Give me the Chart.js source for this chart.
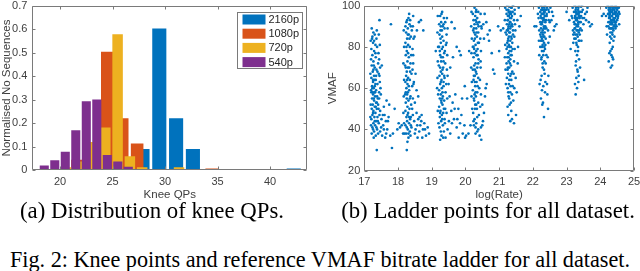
<!DOCTYPE html>
<html>
<head>
<meta charset="utf-8">
<script src="https://cdn.jsdelivr.net/npm/chart.js@4.4.1/dist/chart.umd.min.js"></script>
<style>
  body { margin: 0; width: 640px; height: 271px; background: #fff; position: relative; overflow: hidden; }
  .panel { position: absolute; top: 0; width: 320px; height: 203px; }
  .cap { position: absolute; font-family: "Liberation Serif", "Times New Roman", serif; font-size: 22.8px; line-height: 22px; color: #000; white-space: nowrap; text-align: center; }
</style>
</head>
<body>
<div class="panel" style="left:0"><canvas id="kneeChart" width="320" height="203"></canvas></div>
<div class="panel" style="left:320px"><canvas id="ladderChart" width="320" height="203"></canvas></div>
<div class="cap" style="left:0; width:304px; top:200px">(a) Distribution of knee QPs.</div>
<div class="cap" style="left:338px; width:300px; top:200px">(b) Ladder points for all dataset.</div>
<div class="cap" style="left:0; width:640px; top:249px; font-size:22.2px">Fig. 2: Knee points and reference VMAF bitrate ladder for all dataset.</div>
<script>
// Knee QP histogram (bin centres and normalised counts per resolution)
const qp2160 = [27.85, 29.45, 31.05, 32.65, 34.25, 35.85, 37.45, 39.05, 40.65, 42.25];
const share2160 = [0.088, 0.603, 0.219, 0.088, 0, 0, 0, 0, 0, 0.005];
const qp1080 = [21.66, 23.08, 24.5, 25.92, 27.34, 28.76, 30.18, 31.6, 33.02, 34.44];
const share1080 = [0.042, 0.1, 0.503, 0.219, 0.112, 0.003, 0, 0.003, 0.003, 0.005];
const qp720 = [20.8, 21.97, 23.14, 24.31, 25.48, 26.65, 27.82, 28.99, 30.16, 31.33];
const share720 = [0.01, 0.035, 0.118, 0.18, 0.578, 0.057, 0.01, 0, 0, 0.01];
const qp540 = [18.5, 19.5, 20.5, 21.5, 22.5, 23.5, 24.5, 25.5, 26.5];
const share540 = [0.018, 0.04, 0.077, 0.168, 0.292, 0.3, 0.063, 0.035, 0.012];
const resLabels = ['2160p', '1080p', '720p', '540p'];
const kneeTicksX = [20, 25, 30, 35, 40];
const kneeTicksY = [0, 0.1, 0.2, 0.3, 0.4, 0.5, 0.6, 0.7];

// Ladder points: [log(Rate), VMAF], one list per rung
const rung17 = [[17.22,89],[17.27,87],[17.24,85],[17.31,86],[17.36,84],[17.45,93],[17.26,82],[17.33,81],[17.21,79],[17.29,78],[17.38,80],[17.24,76],[17.34,75],[17.27,73],[17.41,72],[17.22,71],[17.31,70],[17.36,69],[17.25,68],[17.43,67],[17.29,66],[17.21,65],[17.34,64],[17.26,63],[17.39,62],[17.23,61],[17.31,61],[17.28,60],[17.35,59],[17.21,58],[17.44,58],[17.26,57],[17.32,56],[17.38,56],[17.23,55],[17.29,54],[17.35,53],[17.25,52],[17.41,52],[17.31,51],[17.22,50],[17.37,50],[17.27,49],[17.33,48],[17.47,49],[17.24,47],[17.3,46],[17.39,46],[17.21,45],[17.35,44],[17.51,45],[17.27,43],[17.43,43],[17.32,42],[17.24,41],[17.56,42],[17.38,40],[17.29,39],[17.47,39],[17.22,38],[17.34,37],[17.6,47],[17.64,44],[17.53,37],[17.68,40],[17.58,51],[17.72,46],[17.66,54],[17.37,30],[17.77,37],[17.82,31],[17.79,91],[17.49,57],[17.46,63],[17.52,71],[17.42,77],[17.26,64],[17.3,58],[17.28,71],[17.23,84],[17.35,66],[17.4,55],[17.45,47],[17.62,36],
    [17.19,83],[17.2,74],[17.18,67],[17.2,59],[17.19,52],[17.18,46],[17.2,42],[17.43,86],[17.46,81],[17.44,74],[17.47,70],[17.45,66],[17.48,60],[17.44,55],[17.42,50],[17.37,88],[17.29,83],[17.33,77],[17.27,69],[17.39,68],[17.24,60],[17.32,58],[17.28,55],[17.37,53],[17.34,51],[17.26,48],[17.4,44],[17.31,44],[17.36,41],[17.26,40],[17.41,38],[17.28,36],[17.5,41],[17.55,47],[17.58,40],[17.7,44],[17.74,52],[17.65,38],[17.85,38],[17.9,50],[17.33,62],[17.25,58],[17.3,64]];
const rung18 = [[18.31,94],[18.25,92],[18.36,93],[18.22,90],[18.29,89],[18.34,91],[18.41,88],[18.24,87],[18.32,86],[18.27,84],[18.38,85],[18.22,82],[18.3,81],[18.35,80],[18.26,78],[18.43,79],[18.23,76],[18.32,75],[18.28,73],[18.37,72],[18.21,71],[18.33,70],[18.26,68],[18.4,67],[18.24,66],[18.3,65],[18.35,64],[18.22,63],[18.28,62],[18.42,61],[18.25,60],[18.33,59],[18.29,58],[18.21,57],[18.37,56],[18.26,55],[18.31,54],[18.23,53],[18.39,52],[18.28,51],[18.34,50],[18.22,49],[18.3,48],[18.44,47],[18.25,46],[18.36,45],[18.27,44],[18.33,43],[18.22,42],[18.4,41],[18.29,40],[18.35,39],[18.24,38],[18.31,36],[18.28,34],[18.26,30],[18.48,44],[18.52,40],[18.55,48],[18.5,53],[18.6,45],[18.63,39],[18.66,42],[18.58,36],[18.7,47],[18.74,40],[18.78,43],[18.83,37],[18.88,41],[18.47,63],[18.52,67],[18.45,72],[18.56,88],[18.62,92],[18.49,85],[18.75,88],[18.68,93],[18.02,43],[18.06,41],[18.11,42],[17.98,40],[18.15,38],[18.38,46],[18.23,70],[18.3,77],[18.27,57],
    [18.17,88],[18.18,80],[18.16,72],[18.18,64],[18.17,56],[18.16,48],[18.18,43],[18.19,38],[18.44,90],[18.46,84],[18.45,76],[18.43,69],[18.46,62],[18.44,55],[18.42,50],[18.33,96],[18.27,93],[18.38,90],[18.29,86],[18.34,84],[18.25,80],[18.39,76],[18.29,70],[18.36,68],[18.27,64],[18.32,61],[18.23,58],[18.35,55],[18.28,47],[18.33,46],[18.38,42],[18.26,41],[18.31,38],[18.37,37],[18.5,38],[18.57,42],[18.64,46],[18.69,44],[18.8,40],[18.72,36],[18.92,38],[18.55,59],[18.6,56],[18.45,95]];
const rung19 = [[19.31,97],[19.25,95],[19.36,94],[19.28,92],[19.22,91],[19.4,92],[19.33,90],[19.26,88],[19.38,89],[19.23,86],[19.31,85],[19.35,83],[19.27,82],[19.42,81],[19.22,80],[19.3,79],[19.37,77],[19.25,76],[19.33,75],[19.28,73],[19.4,72],[19.21,71],[19.34,70],[19.27,68],[19.31,67],[19.23,66],[19.38,65],[19.29,64],[19.25,62],[19.35,61],[19.3,60],[19.22,59],[19.41,58],[19.27,57],[19.33,56],[19.24,55],[19.37,54],[19.29,53],[19.32,52],[19.22,51],[19.4,50],[19.26,49],[19.34,48],[19.3,47],[19.24,46],[19.38,45],[19.28,44],[19.33,42],[19.23,41],[19.36,39],[19.29,37],[19.25,35],[19.41,36],[19.47,40],[19.51,44],[19.55,38],[19.58,49],[19.62,53],[19.66,45],[19.7,57],[19.74,41],[19.79,50],[19.84,43],[19.88,47],[19.92,38],[19.97,42],[19.99,36],[19.5,62],[19.55,70],[19.63,75],[19.59,92],[19.68,89],[19.74,80],[19.82,78],[19.86,76],[19.47,66],[19.16,60],[19.12,78],[19.44,86],[19.27,90],[19.35,63],[19.24,78],[19.31,55],
    [19.18,95],[19.17,87],[19.19,80],[19.18,73],[19.17,65],[19.19,57],[19.18,49],[19.2,43],[19.45,94],[19.47,89],[19.44,82],[19.46,76],[19.45,69],[19.43,62],[19.46,55],[19.44,48],[19.29,96],[19.35,91],[19.3,88],[19.26,84],[19.33,80],[19.39,78],[19.28,75],[19.35,73],[19.25,70],[19.32,69],[19.37,66],[19.27,63],[19.32,58],[19.28,54],[19.36,50],[19.25,48],[19.31,45],[19.39,43],[19.27,39],[19.34,36],[19.53,56],[19.6,43],[19.68,50],[19.76,45],[19.9,55],[19.8,36],[20.02,37]];
const rung20 = [[20.27,99],[20.32,98],[20.22,96],[20.38,97],[20.29,95],[20.24,93],[20.35,94],[20.41,92],[20.27,91],[20.32,89],[20.23,88],[20.38,87],[20.29,86],[20.34,85],[20.25,83],[20.4,82],[20.3,81],[20.22,80],[20.36,79],[20.27,77],[20.33,76],[20.24,75],[20.39,74],[20.3,72],[20.26,71],[20.35,70],[20.22,69],[20.31,68],[20.28,66],[20.38,65],[20.24,64],[20.33,63],[20.29,61],[20.41,60],[20.22,59],[20.35,58],[20.27,57],[20.31,56],[20.25,55],[20.38,53],[20.29,52],[20.34,50],[20.23,48],[20.4,47],[20.27,45],[20.32,43],[20.25,42],[20.38,40],[20.3,38],[20.42,37],[20.47,35],[20.46,41],[20.52,44],[20.55,48],[20.5,52],[20.58,56],[20.6,60],[20.63,62],[20.66,86],[20.7,83],[20.78,77],[20.82,69],[20.53,91],[20.57,96],[20.48,89],[20.45,73],[20.11,78],[20.05,55],[19.98,61],[20.15,42],[20.09,38],[20.33,92],[20.26,87],[20.36,76],[20.28,63],[20.31,97],[20.24,80],[20.39,90],
    [20.18,97],[20.17,90],[20.19,84],[20.18,77],[20.17,70],[20.19,63],[20.18,56],[20.2,50],[20.45,96],[20.47,90],[20.44,84],[20.46,78],[20.45,70],[20.43,64],[20.46,57],[20.44,51],[20.3,93],[20.36,91],[20.25,89],[20.33,87],[20.28,84],[20.37,82],[20.26,79],[20.32,78],[20.38,72],[20.28,69],[20.33,67],[20.25,66],[20.36,61],[20.3,58],[20.26,54],[20.32,52],[20.28,50],[20.35,46],[20.24,44],[20.3,41],[20.35,39],[20.5,42],[20.62,92],[20.72,88],[20.55,84]];
const rung21 = [[21.24,100],[21.3,99.5],[21.37,99],[21.42,100],[21.27,98],[21.34,97],[21.22,96],[21.4,97],[21.29,95],[21.36,94],[21.25,93],[21.32,92],[21.44,93],[21.23,91],[21.28,90],[21.38,91],[21.33,89],[21.26,88],[21.41,88],[21.3,87],[21.22,86],[21.36,85],[21.27,84],[21.33,83],[21.24,82],[21.39,82],[21.29,81],[21.35,80],[21.22,79],[21.31,78],[21.27,77],[21.37,76],[21.24,75],[21.33,74],[21.28,73],[21.22,72],[21.35,71],[21.3,70],[21.25,69],[21.39,68],[21.27,67],[21.33,66],[21.23,65],[21.36,64],[21.29,62],[21.4,61],[21.25,60],[21.33,58],[21.28,56],[21.42,54],[21.31,52],[21.36,49],[21.27,47],[21.38,45],[21.33,44],[21.44,43],[21.5,47],[21.52,58],[21.55,72],[21.6,90],[21.64,95],[21.48,88],[21.46,98],[21.58,99],[21.12,89],[21.05,88],[20.97,90],[20.86,67],[21.0,78],[21.31,96],[21.26,93],[21.38,95],[21.23,88],[21.35,90],[21.29,85],[21.41,86],[21.25,80],[21.32,94],[21.28,97],[21.36,99],[21.22,98],[21.3,91],[21.4,79],[21.34,76],
    [21.18,99],[21.17,93],[21.19,87],[21.18,81],[21.17,75],[21.19,69],[21.2,62],[21.46,96],[21.47,91],[21.45,85],[21.46,79],[21.44,73],[21.43,67],[21.45,60],[21.3,97],[21.35,96],[21.26,95],[21.33,92],[21.39,90],[21.27,89],[21.32,87],[21.37,84],[21.26,83],[21.31,80],[21.36,78],[21.28,75],[21.32,72],[21.26,70],[21.36,67],[21.3,64],[21.34,61],[21.27,58],[21.38,57],[21.3,55],[21.25,51],[21.35,53],[21.49,65],[21.56,80],[21.54,93],[21.4,100]];
const rung22 = [[22.24,100],[22.3,99.5],[22.36,100],[22.42,99],[22.27,98],[22.33,97],[22.22,97],[22.39,98],[22.29,96],[22.35,95],[22.25,94],[22.41,95],[22.31,93],[22.22,92],[22.37,92],[22.27,91],[22.33,90],[22.24,89],[22.4,89],[22.29,88],[22.35,87],[22.22,86],[22.31,85],[22.27,84],[22.38,84],[22.24,83],[22.33,82],[22.29,81],[22.22,80],[22.36,79],[22.27,78],[22.31,76],[22.25,74],[22.38,72],[22.29,70],[22.35,67],[22.23,64],[22.31,61],[22.27,59],[22.24,55],[22.3,53],[22.36,58],[22.42,62],[22.45,50],[22.33,46],[22.46,66],[22.5,85],[22.55,93],[22.6,95],[22.65,90],[22.7,91],[22.48,97],[22.52,99],[22.1,90],[22.05,90],[22.15,96],[22.34,99],[22.26,96],[22.32,94],[22.28,92],[22.37,90],[22.25,87],[22.3,86],[22.39,93],[22.23,95],[22.35,97],[22.28,99],[22.41,96],[22.32,89],[22.26,83],[22.34,80],[22.4,76],
    [22.18,99],[22.17,94],[22.19,88],[22.18,83],[22.19,76],[22.46,98],[22.47,93],[22.45,88],[22.46,82],[22.44,75],[22.3,98],[22.35,98],[22.25,98],[22.32,96],[22.38,95],[22.27,94],[22.33,93],[22.24,91],[22.36,89],[22.29,87],[22.34,85],[22.24,85],[22.3,83],[22.37,81],[22.27,80],[22.32,78],[22.26,75],[22.34,73],[22.29,72],[22.33,69],[22.26,66],[22.37,63],[22.43,57],[22.5,92],[22.57,97],[22.62,88],[22.2,62],[22.28,52]];
const rung23 = [[23.24,100],[23.3,99.5],[23.37,100],[23.43,99.5],[23.27,98],[23.34,98],[23.22,97],[23.4,97],[23.48,98],[23.29,96],[23.36,95],[23.25,94],[23.43,95],[23.31,93],[23.22,92],[23.38,92],[23.27,91],[23.34,90],[23.24,89],[23.41,89],[23.3,88],[23.36,87],[23.26,86],[23.33,85],[23.23,84],[23.38,83],[23.29,82],[23.34,80],[23.26,78],[23.31,76],[23.37,74],[23.27,71],[23.33,68],[23.29,65],[23.35,63],[23.31,60],[23.27,57],[23.4,70],[23.5,91],[23.55,96],[23.58,93],[23.62,99],[23.7,90],[23.75,91],[23.52,64],[23.12,79],[23.08,93],[23.0,97],[23.15,95],[23.35,99],[23.26,97],[23.32,96],[23.28,94],[23.39,94],[23.24,91],[23.35,92],[23.3,90],[23.42,92],[23.23,87],[23.39,86],[23.28,99],[23.45,97],[23.33,88],[23.25,95],[23.37,97],
    [23.18,99],[23.17,94],[23.19,88],[23.2,82],[23.46,100],[23.47,94],[23.45,88],[23.44,83],[23.3,97],[23.36,96],[23.26,95],[23.33,94],[23.4,95],[23.28,93],[23.34,91],[23.25,89],[23.38,88],[23.31,86],[23.27,84],[23.36,83],[23.3,81],[23.34,78],[23.28,73],[23.32,69],[23.36,66],[23.25,62],[23.52,94],[23.6,97],[23.66,92],[23.2,86]];
const rung24 = [[24.22,100],[24.28,99.5],[24.34,100],[24.4,99.5],[24.46,100],[24.52,99],[24.25,98],[24.31,98],[24.37,98],[24.43,97],[24.5,98],[24.55,97],[24.23,96],[24.29,96],[24.35,95],[24.41,96],[24.47,95],[24.53,95],[24.26,94],[24.32,93],[24.38,93],[24.44,94],[24.5,93],[24.24,92],[24.3,91],[24.36,91],[24.42,92],[24.48,90],[24.27,89],[24.33,89],[24.39,88],[24.45,89],[24.3,87],[24.36,86],[24.42,85],[24.33,84],[24.28,82],[24.37,80],[24.3,78],[24.33,76],[24.25,73],[24.38,74],[24.35,71],[24.31,70],[24.1,96],[24.05,95],[24.55,99],[24.26,99],[24.32,97],[24.38,96],[24.44,99],[24.29,94],[24.35,97],[24.41,93],[24.47,97],[24.24,90],[24.34,91],[24.4,90],[24.51,96],[24.27,97],[24.45,91],[24.39,99],
    [24.18,99],[24.17,95],[24.19,90],[24.2,86],[24.57,96],[24.56,91],[24.3,99],[24.36,99],[24.42,98],[24.48,99],[24.27,95],[24.33,95],[24.39,94],[24.45,96],[24.52,94],[24.28,92],[24.34,92],[24.4,93],[24.46,92],[24.31,89],[24.37,89],[24.43,90],[24.35,87],[24.29,85],[24.39,83],[24.34,79],[24.27,77],[24.36,75]];
const ladderTicksX = [17, 18, 19, 20, 21, 22, 23, 24, 25];
const ladderTicksY = [20, 40, 60, 80, 100];

// MATLAB default colour order
const colors = ['#0072BD', '#D95319', '#EDB120', '#7E2F8E'];
const axisFont = { family: '"Liberation Sans", Arial, sans-serif', size: 11 };
const titleFont = { family: '"Liberation Sans", Arial, sans-serif', size: 11.5 };
const textColor = '#404040';
const tickLen = 3;

// box around the axes with inward ticks on all four sides
const matlabAxes = {
    id: 'matlabAxes',
    afterDatasetsDraw(chart) {
        const { ctx, chartArea: a, scales } = chart;
        const l = Math.round(a.left) + 0.5, r = Math.round(a.right) - 0.5;
        const t = Math.round(a.top) + 0.5, b = Math.round(a.bottom) - 0.5;
        ctx.save();
        ctx.strokeStyle = '#7a7a7a';
        ctx.lineWidth = 1;
        ctx.beginPath();
        ctx.rect(l, t, r - l, b - t);
        scales.x.ticks.forEach(tk => {
            const px = Math.round(scales.x.getPixelForValue(tk.value)) + 0.5;
            ctx.moveTo(px, b); ctx.lineTo(px, b - tickLen);
            ctx.moveTo(px, t); ctx.lineTo(px, t + tickLen);
        });
        scales.y.ticks.forEach(tk => {
            const py = Math.round(scales.y.getPixelForValue(tk.value)) + 0.5;
            ctx.moveTo(l, py); ctx.lineTo(l + tickLen, py);
            ctx.moveTo(r, py); ctx.lineTo(r - tickLen, py);
        });
        ctx.stroke();
        ctx.restore();
    }
};

// legend box in the top right corner of the histogram axes
const boxLegend = {
    id: 'boxLegend',
    afterDraw(chart) {
        const { ctx, chartArea: a } = chart;
        const w = 65, h = 56;
        const left = Math.round(a.right - 5 - w) + 0.5, top = Math.round(a.top + 6) + 0.5;
        ctx.save();
        ctx.fillStyle = '#fff';
        ctx.fillRect(left, top, w, h);
        ctx.strokeStyle = '#7a7a7a';
        ctx.lineWidth = 1;
        ctx.strokeRect(left, top, w, h);
        ctx.font = '11px "Liberation Sans", Arial, sans-serif';
        ctx.textBaseline = 'middle';
        chart.data.datasets.forEach((ds, i) => {
            const cy = top + 7 + i * 14.2;
            ctx.fillStyle = ds.backgroundColor;
            ctx.fillRect(left + 5, cy - 5, 23, 10);
            ctx.fillStyle = '#262626';
            ctx.fillText(ds.label, left + 31, cy + 0.5);
        });
        ctx.restore();
    }
};

function histData(centres, shares) {
    return centres.map((c, i) => ({ x: c, y: shares[i] }));
}

// bar width = 0.8 of the bin spacing, measured through the x scale
function binThickness(ctx) {
    const d = ctx.chart.data.datasets[ctx.datasetIndex].data;
    const s = ctx.chart.scales.x;
    const w = 0.8 * (d[1].x - d[0].x) * (s.getPixelForValue(1) - s.getPixelForValue(0));
    return isFinite(w) && w > 0 ? w : 8;
}

const noGrid = { display: false, drawTicks: false, tickLength: 0 };

new Chart(document.getElementById('kneeChart'), {
    type: 'bar',
    data: {
        datasets: [
            { label: resLabels[0], data: histData(qp2160, share2160), backgroundColor: colors[0], order: 4 },
            { label: resLabels[1], data: histData(qp1080, share1080), backgroundColor: colors[1], order: 3 },
            { label: resLabels[2], data: histData(qp720, share720), backgroundColor: colors[2], order: 2 },
            { label: resLabels[3], data: histData(qp540, share540), backgroundColor: colors[3], order: 1 }
        ]
    },
    options: {
        responsive: false,
        animation: false,
        events: [],
        grouped: false,
        barThickness: binThickness,
        borderWidth: 0,
        layout: { padding: { top: 6, right: 12.7, left: 0, bottom: 0 } },
        plugins: { legend: { display: false }, tooltip: { enabled: false } },
        scales: {
            x: {
                type: 'linear', min: 17.36, max: 43.54, offset: false,
                grid: noGrid, border: { display: false },
                afterBuildTicks: s => { s.ticks = kneeTicksX.map(v => ({ value: v })); },
                afterFit: s => { s.height = 33; s.paddingLeft = 0; s.paddingRight = 0; },
                ticks: { color: textColor, font: axisFont, padding: 5, maxRotation: 0, autoSkip: false },
                title: { display: true, text: 'Knee QPs', color: textColor, font: titleFont, padding: { top: 0, bottom: 1 } }
            },
            y: {
                min: 0, max: 0.7,
                grid: noGrid, border: { display: false },
                afterBuildTicks: s => { s.ticks = kneeTicksY.map(v => ({ value: v })); },
                afterFit: s => { s.width = 32.3; s.paddingTop = 0; s.paddingBottom = 0; },
                ticks: { color: textColor, font: axisFont, padding: 5, autoSkip: false, callback: v => String(Math.round(v * 10) / 10) },
                title: { display: true, text: 'Normalised No Sequences', color: textColor, font: titleFont, padding: { top: 0, bottom: 0 } }
            }
        }
    },
    plugins: [matlabAxes, boxLegend]
});

const ladderPoints = [rung17, rung18, rung19, rung20, rung21, rung22, rung23, rung24]
    .flat().map(([x, y]) => ({ x, y }));

new Chart(document.getElementById('ladderChart'), {
    type: 'scatter',
    data: {
        datasets: [{
            data: ladderPoints,
            backgroundColor: colors[0],
            pointRadius: 1.35,
            pointBorderWidth: 0
        }]
    },
    options: {
        responsive: false,
        animation: false,
        events: [],
        layout: { padding: { top: 5.7, right: 6, left: 0, bottom: 0 } },
        plugins: { legend: { display: false }, tooltip: { enabled: false } },
        scales: {
            x: {
                type: 'linear', min: 17, max: 25,
                grid: noGrid, border: { display: false },
                afterBuildTicks: s => { s.ticks = ladderTicksX.map(v => ({ value: v })); },
                afterFit: s => { s.height = 32.3; s.paddingLeft = 0; s.paddingRight = 0; },
                ticks: { color: textColor, font: axisFont, padding: 5, maxRotation: 0, autoSkip: false },
                title: { display: true, text: 'log(Rate)', color: textColor, font: titleFont, padding: { top: 0, bottom: 1 } }
            },
            y: {
                min: 20, max: 100,
                grid: noGrid, border: { display: false },
                afterBuildTicks: s => { s.ticks = ladderTicksY.map(v => ({ value: v })); },
                afterFit: s => { s.width = 44.3; s.paddingTop = 0; s.paddingBottom = 0; },
                ticks: { color: textColor, font: axisFont, padding: 4, autoSkip: false },
                title: { display: true, text: 'VMAF', color: textColor, font: titleFont, padding: { top: 6, bottom: 0 } }
            }
        }
    },
    plugins: [matlabAxes]
});
</script>
</body>
</html>
